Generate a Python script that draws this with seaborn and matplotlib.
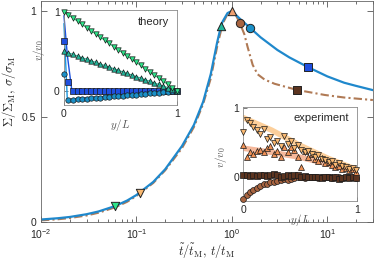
import matplotlib
matplotlib.use("Agg")
import matplotlib.pyplot as plt
import seaborn as sns
from matplotlib.ticker import LogLocator, FixedLocator, NullFormatter

# main panel: normalised stress vs normalised time
t_theory = [0.01, 0.015, 0.02, 0.03, 0.04, 0.06, 0.08, 0.1, 0.15, 0.2, 0.3, 0.4, 0.5, 0.6, 0.7, 0.77, 0.8, 0.9, 1.0,
            1.2, 1.55, 2.0, 3.0, 4.0, 6.2, 10.0, 15.0, 20.0, 30.0]
sig_theory = [0.012, 0.018, 0.024, 0.037, 0.050, 0.076, 0.102, 0.128, 0.19, 0.25, 0.36, 0.46, 0.57, 0.70, 0.85, 0.93, 0.95, 0.99, 1.0,
              0.965, 0.92, 0.875, 0.815, 0.78, 0.735, 0.69, 0.66, 0.645, 0.625]

t_exp = [0.01, 0.015, 0.02, 0.03, 0.04, 0.06, 0.08, 0.1, 0.15, 0.2, 0.3, 0.4, 0.5, 0.6, 0.7, 0.8, 0.9, 1.0,
         1.1, 1.21, 1.35, 1.46, 1.65, 1.86, 2.2, 2.8, 4.8, 9.4, 15.0, 30.0]
sig_exp = [0.008, 0.013, 0.019, 0.031, 0.044, 0.070, 0.096, 0.124, 0.185, 0.245, 0.35, 0.45, 0.56, 0.68, 0.83, 0.94, 0.985, 1.0,
           0.98, 0.943, 0.89, 0.83, 0.745, 0.70, 0.675, 0.655, 0.626, 0.602, 0.59, 0.578]

# highlighted states on the main curves
mk_t = [0.06, 0.108, 0.77, 1.0, 1.21, 1.55, 6.2, 4.8]
mk_s = [0.076, 0.138, 0.93, 1.0, 0.943, 0.92, 0.735, 0.626]
mk_shape = ["v", "v", "^", "^", "o", "o", "s", "s"]
mk_color = ["#2ee58a", "#f9b870", "#22b59a", "#f0a070", "#a86440", "#1a90c8", "#1f4fe0", "#5b3420"]

# theory inset: velocity profiles
th_y = [0.00, 0.04, 0.08, 0.12, 0.16, 0.20, 0.24, 0.28, 0.32, 0.36, 0.40, 0.44, 0.48,
        0.52, 0.56, 0.60, 0.64, 0.68, 0.72, 0.76, 0.80, 0.84, 0.88, 0.92, 0.96, 1.00]
th_down = [1.00, 0.96, 0.92, 0.88, 0.84, 0.80, 0.76, 0.72, 0.68, 0.64, 0.60, 0.56, 0.52,
           0.48, 0.44, 0.40, 0.36, 0.32, 0.28, 0.24, 0.20, 0.16, 0.12, 0.08, 0.04, 0.00]
th_up = [0.50, 0.48, 0.46, 0.44, 0.42, 0.40, 0.38, 0.36, 0.34, 0.32, 0.30, 0.28, 0.26,
         0.24, 0.22, 0.20, 0.18, 0.16, 0.14, 0.12, 0.10, 0.08, 0.06, 0.04, 0.02, 0.00]
th_sq = [0.63, 0.11, 0.00, 0.00, 0.00, 0.00, 0.00, 0.00, 0.00, 0.00, 0.00, 0.00, 0.00,
         0.00, 0.00, 0.00, 0.00, 0.00, 0.00, 0.00, 0.00, 0.00, 0.00, 0.00, 0.00, 0.00]
th_circ = [0.21, -0.11, -0.112, -0.108, -0.104, -0.10, -0.095, -0.09, -0.086, -0.082, -0.077, -0.072, -0.067,
           -0.062, -0.057, -0.052, -0.047, -0.042, -0.037, -0.032, -0.027, -0.022, -0.017, -0.012, -0.006, 0.0]
th_sq_line_y = [0.0, 0.03, 0.07, 1.0]
th_sq_line_v = [0.95, 0.45, 0.0, 0.0]
th_circ_line_y = [0.0, 0.03, 0.08, 0.5, 1.0]
th_circ_line_v = [0.85, -0.12, -0.105, -0.06, 0.0]

# experiment inset
ex_y = [0.00, 0.03, 0.06, 0.09, 0.12, 0.15, 0.18, 0.21, 0.24, 0.27, 0.30, 0.33, 0.36, 0.39, 0.42, 0.45, 0.48,
        0.51, 0.54, 0.57, 0.60, 0.63, 0.66, 0.69, 0.72, 0.75, 0.78, 0.81, 0.84, 0.87, 0.90, 0.93, 0.96, 0.99]
ex_down = [0.66, 0.83, 0.78, 0.72, 0.68, 0.62, 0.70, 0.55, 0.58, 0.50, 0.52, 0.45, 0.60, 0.48, 0.53, 0.42, 0.46,
           0.40, 0.36, 0.38, 0.33, 0.30, 0.32, 0.26, 0.25, 0.22, 0.24, 0.18, 0.20, 0.16, 0.15, 0.12, 0.14, 0.10]
ex_up = [0.47, 0.30, 0.36, 0.33, 0.38, 0.40, 0.36, 0.42, 0.45, 0.34, 0.38, 0.30, 0.43, 0.36, 0.44, 0.40, 0.30,
         0.15, 0.38, 0.30, 0.33, 0.26, 0.24, 0.28, 0.20, 0.22, 0.18, 0.15, 0.16, 0.12, 0.14, 0.10, 0.12, 0.08]
ex_sq = [0.04, 0.03, 0.02, 0.03, 0.02, 0.03, 0.04, 0.02, 0.03, 0.05, 0.04, 0.01, 0.02, 0.03, 0.02, 0.04, 0.03,
         0.01, 0.02, 0.01, 0.00, 0.01, 0.00, -0.01, 0.00, 0.01, -0.01, 0.00, -0.02, -0.01, 0.00, -0.01, 0.00, -0.01]
ex_circ = [-0.31, -0.25, -0.21, -0.18, -0.15, -0.125, -0.10, -0.09, -0.07, -0.06, -0.05, -0.04, -0.03, -0.04, -0.02, -0.01, 0.00,
           0.01, -0.01, 0.00, 0.01, 0.00, -0.01, 0.00, 0.01, 0.00, -0.01, 0.00, 0.00, -0.01, 0.00, 0.01, 0.00, -0.01]
band_y = [0.0, 0.25, 0.5, 0.75, 1.0]
band_down = [0.86, 0.68, 0.46, 0.27, 0.11]
band_up = [0.42, 0.36, 0.29, 0.19, 0.10]

sns.set_style("ticks")
plt.rcParams['font.family'] = ['Liberation Sans', 'DejaVu Sans']
plt.rcParams['mathtext.fontset'] = 'cm'
TXT = "#262626"
FS = 7.5

fig = plt.figure(figsize=(3.74, 2.6), dpi=100)
ax = fig.add_axes([0.1096, 0.146, 0.8874, 0.85])

sns.lineplot(x=t_theory, y=sig_theory, ax=ax, color="#1f88cc", lw=1.6, zorder=2)
sns.lineplot(x=t_exp, y=sig_exp, ax=ax, color="#b07a55", lw=1.5, linestyle=(0, (4, 1.5, 1, 1.5)), zorder=1)
for t, s, m, c in zip(mk_t, mk_s, mk_shape, mk_color):
    sns.scatterplot(x=[t], y=[s], ax=ax, marker=m, s=36, color=c, edgecolor="#222222", linewidth=0.7,
                    zorder=5, clip_on=False, legend=False)

ax.set_xscale("log")
ax.set_xlim(0.01, 30)
ax.set_ylim(0, 1.047)
ax.set_yticks([0, 0.5, 1])
ax.set_yticklabels(["0", "0.5", "1"])
ax.xaxis.set_major_locator(LogLocator(base=10, numticks=10))
ax.xaxis.set_minor_locator(LogLocator(base=10, subs=[2, 3, 4, 5, 6, 7, 8, 9], numticks=20))
ax.xaxis.set_minor_formatter(NullFormatter())
ax.tick_params(which="both", direction="in", top=True, right=True, colors="#555555",
               labelcolor=TXT, labelsize=FS, width=0.6)
ax.tick_params(which="major", length=4)
ax.tick_params(which="minor", length=2)
for sp in ax.spines.values():
    sp.set_color("#666666")
    sp.set_linewidth(0.6)
ax.set_xlabel(r"$\tilde{t}/\tilde{t}_\mathrm{M},\, t/t_\mathrm{M}$", fontsize=9, color=TXT, labelpad=1)
ax.set_ylabel(r"$\Sigma/\Sigma_\mathrm{M},\, \sigma/\sigma_\mathrm{M}$", fontsize=9, color=TXT)
ax.yaxis.set_label_coords(-0.07, 0.59)

def style_inset(a, ylo, label, lx, ly):
    a.set_xlim(0, 1)
    a.set_ylim(ylo[0], ylo[1])
    a.xaxis.set_major_locator(FixedLocator([0, 1]))
    a.yaxis.set_major_locator(FixedLocator([0, 1]))
    a.set_xticklabels(["0", "1"])
    a.set_yticklabels(["0", "1"])
    a.tick_params(direction="in", length=3, width=0.6, colors="#666666", labelcolor=TXT, labelsize=FS, pad=3)
    for sp in a.spines.values():
        sp.set_color("#8a8a8a")
        sp.set_linewidth(0.6)
    a.set_xlabel(r"$y/L$", fontsize=8, color="#555555")
    a.xaxis.set_label_coords(0.5, lx)
    a.set_ylabel(r"$v/v_0$", fontsize=8, color="#555555")
    a.yaxis.set_label_coords(ly[0], ly[1])
    a.text(0.93, 0.88, label, transform=a.transAxes, ha="right", va="center", fontsize=FS + 0.5, color=TXT)

# theory inset
ax1 = fig.add_axes([0.171, 0.596, 0.302, 0.365])
ax1.set_facecolor("white")
sns.lineplot(x=th_y, y=th_down, ax=ax1, color="#2ee58a", lw=0.8, clip_on=False)
sns.lineplot(x=th_y, y=th_up, ax=ax1, color="#22b59a", lw=0.8, clip_on=False)
sns.lineplot(x=th_sq_line_y, y=th_sq_line_v, ax=ax1, color="#1a50e0", lw=1.0, clip_on=False)
sns.lineplot(x=th_circ_line_y, y=th_circ_line_v, ax=ax1, color="#1a98e0", lw=1.0, clip_on=False)
for vals, m, c in [(th_sq, "s", "#1f4fe0"), (th_circ, "o", "#1a90c8"),
                   (th_up, "^", "#22b59a"), (th_down, "v", "#2ee58a")]:
    sns.scatterplot(x=th_y, y=vals, ax=ax1, marker=m, s=15, color=c, edgecolor="#1a1a1a",
                    linewidth=0.5, clip_on=False, legend=False, zorder=4)
style_inset(ax1, (-0.18, 1.02), "theory", -0.13, (-0.15, 0.58))

# experiment inset
ax2 = fig.add_axes([0.65, 0.227, 0.305, 0.362])
ax2.set_facecolor("white")
sns.lineplot(x=band_y, y=band_down, ax=ax2, color="#fbc07a", lw=4.0, alpha=0.75)
sns.lineplot(x=band_y, y=band_up, ax=ax2, color="#f2a07a", lw=4.0, alpha=0.75)
for vals, m, c in [(ex_circ, "o", "#a86440"), (ex_sq, "s", "#5b3420"),
                   (ex_up, "^", "#ee9055"), (ex_down, "v", "#f9b870")]:
    sns.scatterplot(x=ex_y, y=vals, ax=ax2, marker=m, s=18, color=c, edgecolor="#1a1a1a",
                    linewidth=0.5, clip_on=False, legend=False, zorder=4)
style_inset(ax2, (-0.34, 1.015), "experiment", -0.12, (-0.12, 0.47))

fig.savefig("out.png", dpi=100)
